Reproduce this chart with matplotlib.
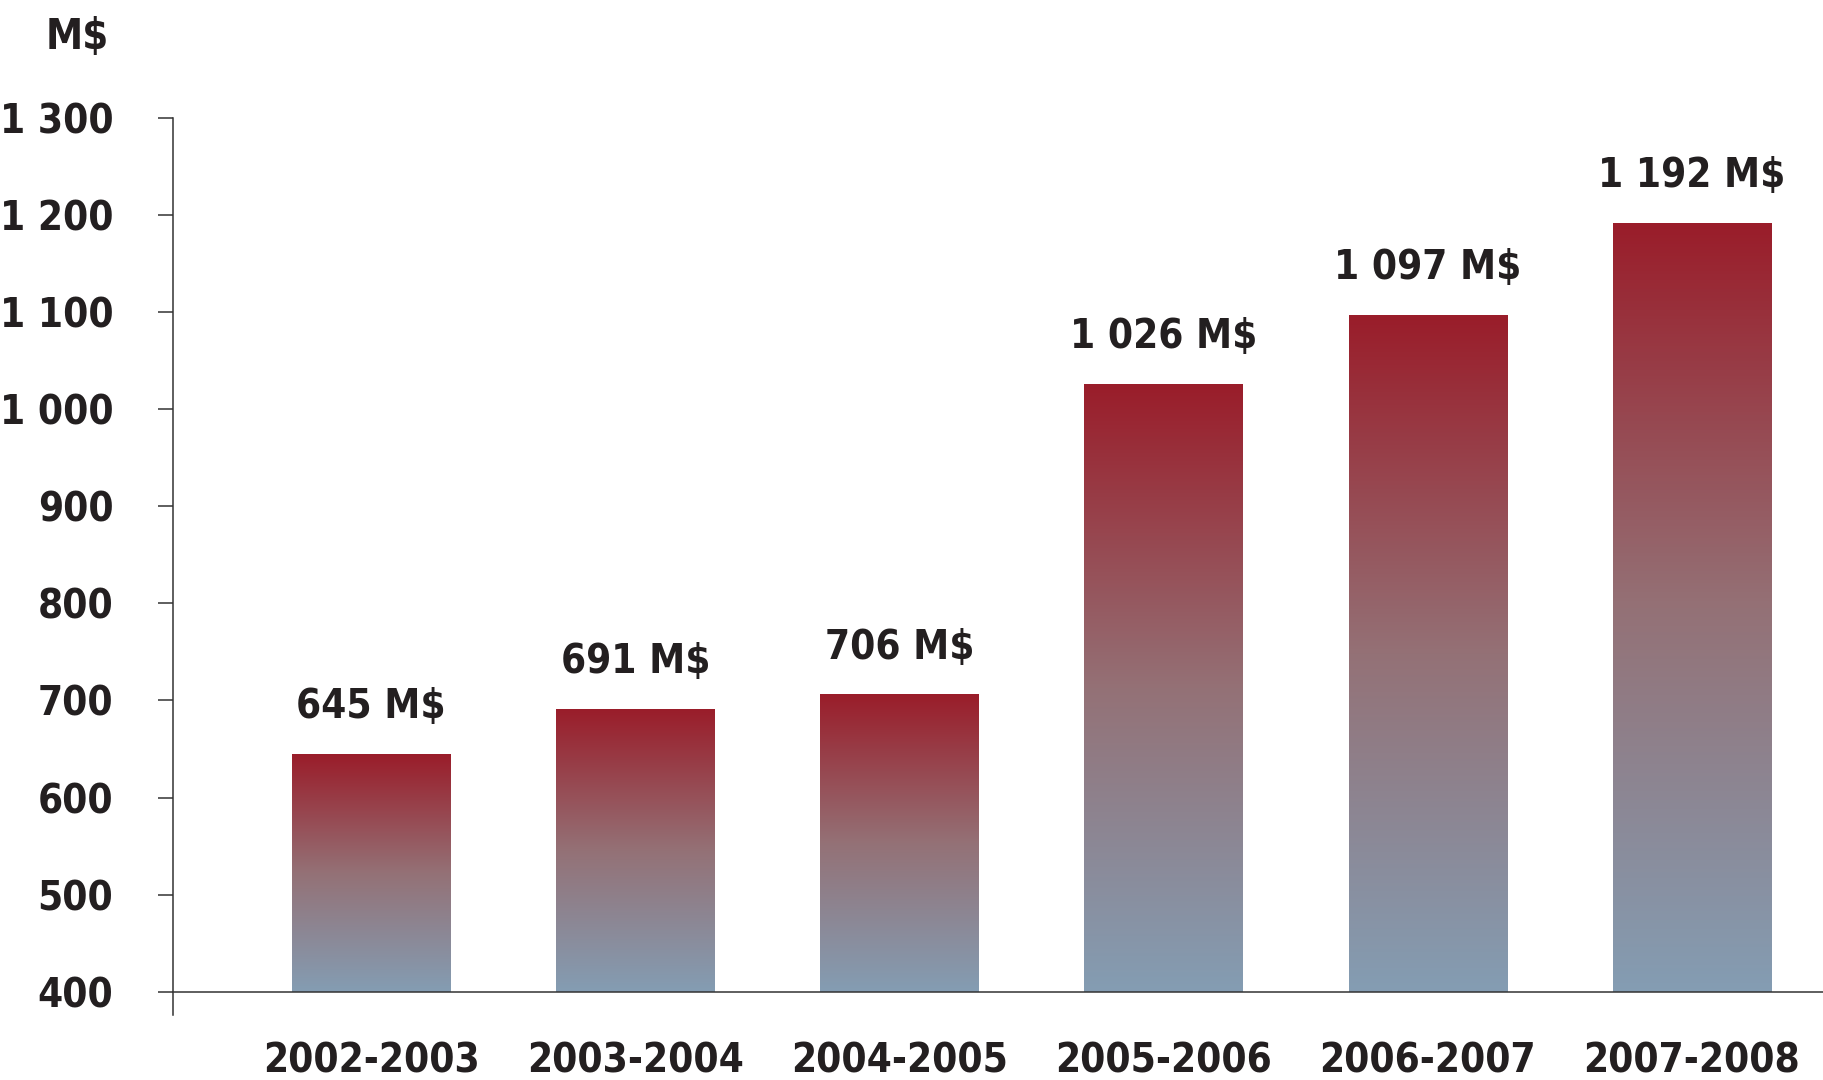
import matplotlib.pyplot as plt
import numpy as np
from matplotlib import font_manager
from matplotlib.colors import LinearSegmentedColormap

# data
periods = ['2002-2003', '2003-2004', '2004-2005', '2005-2006', '2006-2007', '2007-2008']
amounts = [645, 691, 706, 1026, 1097, 1192]
value_labels = ['645 M$', '691 M$', '706 M$', '1 026 M$', '1 097 M$', '1 192 M$']
y_ticks = [400, 500, 600, 700, 800, 900, 1000, 1100, 1200, 1300]
y_tick_labels = ['400', '500', '600', '700', '800', '900', '1 000', '1 100', '1 200', '1 300']


def pick_narrow_bold():
    # look for a condensed / narrow bold face among installed fonts
    best = None
    for f in font_manager.fontManager.ttflist:
        narrow = ('Narrow' in f.name or 'Condensed' in f.name
                  or f.stretch in ('condensed', 'semi-condensed', 'extra-condensed', 550, 600))
        w = f.weight if isinstance(f.weight, int) else (700 if 'bold' in str(f.weight) else 400)
        if narrow and w >= 700 and 'Mono' not in f.name and 'Serif' not in f.name:
            if best is None or 'Liberation' in f.name:
                best = f
    return best


entry = pick_narrow_bold()
if entry is not None:
    fp = font_manager.FontProperties(fname=entry.fname)
    fsize = 29
else:
    fp = font_manager.FontProperties(family='DejaVu Sans', weight='bold')
    fsize = 24

grad = LinearSegmentedColormap.from_list('bar_grad', ['#849db3', '#947176', '#9a1d2a'])

fig = plt.figure(figsize=(18.24, 10.8), dpi=100)
# 1300 sits at y=118 px, 400 at y=992 px; axes runs down to 376
ax = fig.add_axes([173 / 1824, 1 - 1015 / 1080, 1 - 173 / 1824, (1015 - 118) / 1080])

base = 400
width = 0.6
x = np.arange(len(periods))
gradient = np.linspace(0, 1, 256).reshape(-1, 1)
for xi, v, lab in zip(x, amounts, value_labels):
    ax.imshow(gradient, cmap=grad, origin='lower', aspect='auto',
              extent=[xi - width / 2, xi + width / 2, base, v], zorder=2)
    ax.annotate(lab, (xi, v), xytext=(0, 26), textcoords='offset points',
                ha='center', va='baseline', fontproperties=fp, fontsize=fsize, color='#231f20')

ax.set_xlim(-0.75, 5.5)
ax.set_ylim(376, 1300)

ax.spines['top'].set_visible(False)
ax.spines['right'].set_visible(False)
ax.spines['bottom'].set_position(('data', base))
ax.spines['left'].set_color('#333333')
ax.spines['bottom'].set_color('#333333')
ax.spines['left'].set_linewidth(1.1)
ax.spines['bottom'].set_linewidth(1.1)

ax.set_yticks(y_ticks, labels=y_tick_labels)
ax.set_xticks(x, labels=periods)
ax.tick_params(axis='y', length=11, width=1.1, color='#333333', pad=32, labelcolor='#231f20')
ax.tick_params(axis='x', length=0, pad=36, labelcolor='#231f20')
for t in ax.get_xticklabels() + ax.get_yticklabels():
    t.set_fontproperties(fp)
    t.set_fontsize(fsize)

fig.text(77 / 1824, 1 - 37 / 1080, 'M$', ha='center', va='center',
         fontproperties=fp, fontsize=fsize + 1, color='#231f20')

fig.savefig('out.png', dpi=100)
